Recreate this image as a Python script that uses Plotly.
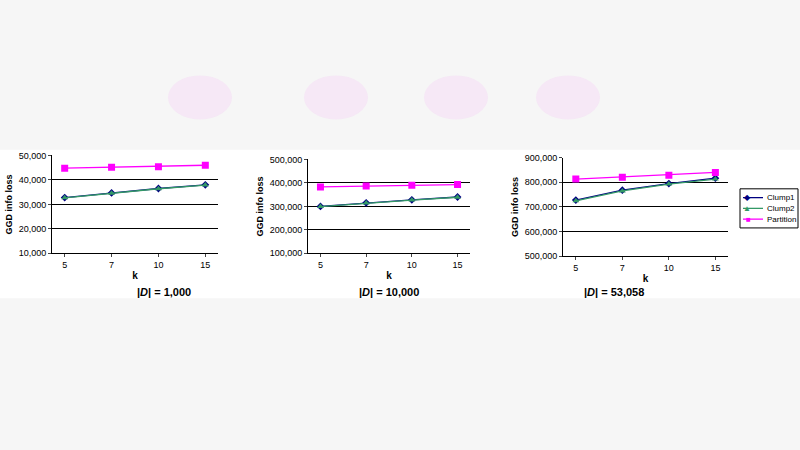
import plotly.graph_objects as go

# --- dados ---
k_labels = ["5", "7", "10", "15"]

clump1_1k = [32800, 34700, 36500, 38000]
clump2_1k = [32700, 34600, 36400, 37900]
partition_1k = [44800, 45200, 45400, 46000]

clump1_10k = [300000, 315000, 328000, 340000]
clump2_10k = [299000, 314000, 327000, 339000]
partition_10k = [383000, 387000, 390000, 393000]

clump1_53k = [728000, 768000, 795000, 817000]
clump2_53k = [725000, 765000, 793000, 813000]
partition_53k = [813000, 821000, 829000, 840000]

series_nomes = ["Clump1", "Clump2", "Partition"]

paineis = [
    (clump1_1k, clump2_1k, partition_1k, [10000, 50000], 10000, "|<i>D</i>| = 1,000"),
    (clump1_10k, clump2_10k, partition_10k, [100000, 500000], 100000, "|<i>D</i>| = 10,000"),
    (clump1_53k, clump2_53k, partition_53k, [500000, 900000], 100000, "|<i>D</i>| = 53,058"),
]
dom_x = [[0.065, 0.2725], [0.385, 0.5875], [0.704, 0.91]]
dom_y = [[0.4356, 0.658], [0.4356, 0.649], [0.429, 0.653]]

cores = ["#000080", "#339966", "#ff00ff"]
simbolos = ["diamond", "triangle-up", "square"]
tamanhos = [6, 6, 7]

fig = go.Figure()
fonte = "Liberation Sans, Arial, sans-serif"

for i, (c1, c2, part, yr, dt, titulo) in enumerate(paineis):
    n = "" if i == 0 else str(i + 1)
    xa, ya = "x" + n, "y" + n
    for j, vals in enumerate([c1, c2, part]):
        fig.add_trace(go.Scatter(x=k_labels, y=vals, name=series_nomes[j], xaxis=xa, yaxis=ya,
                                 mode="lines+markers", line=dict(color=cores[j], width=1.3),
                                 marker=dict(symbol=simbolos[j], size=tamanhos[j], color=cores[j]),
                                 showlegend=False))
    fig.layout["xaxis" + n] = dict(domain=dom_x[i], anchor=ya, type="category",
                                   showline=True, linecolor="#000", mirror=False,
                                   ticks="outside", ticklen=3, tickfont=dict(size=9, family=fonte),
                                   title=dict(text="<b>k</b>", font=dict(size=10, family=fonte), standoff=2))
    fig.layout["yaxis" + n] = dict(domain=dom_y[i], anchor=xa, range=yr, dtick=dt,
                                   tickformat=",", showline=True, linecolor="#000",
                                   showgrid=True, gridcolor="#000", gridwidth=1,
                                   ticks="outside", ticklen=3, tickfont=dict(size=9, family=fonte),
                                   title=dict(text="<b>GGD info loss</b>", font=dict(size=9, family=fonte), standoff=4))
    # moldura cinzenta da área do gráfico
    fig.add_shape(type="rect", xref=xa + " domain", yref=ya + " domain", x0=0, x1=1, y0=0, y1=1,
                  line=dict(color="#999", width=1), layer="below")
    fig.add_annotation(text="<b>" + titulo + "</b>", xref="paper", yref="paper",
                       x=sum(dom_x[i]) / 2, y=1 - 294 / 450, showarrow=False,
                       font=dict(size=11, family=fonte, color="#000"))

# legenda desenhada à mão (a legenda do plotly fica larga demais)
fig.add_shape(type="rect", xref="paper", yref="paper", x0=740 / 800, x1=798 / 800,
              y0=1 - 228 / 450, y1=1 - 188 / 450, line=dict(color="#000", width=1), fillcolor="white")
sym_txt = ["◆", "▲", "■"]
for j, nome in enumerate(series_nomes):
    yy = 1 - (197 + 11 * j) / 450
    fig.add_shape(type="line", xref="paper", yref="paper", x0=743 / 800, x1=763 / 800, y0=yy, y1=yy,
                  line=dict(color=cores[j], width=1.3))
    fig.add_annotation(text=sym_txt[j], xref="paper", yref="paper", x=753 / 800, y=yy,
                       showarrow=False, font=dict(size=8, color=cores[j]))
    fig.add_annotation(text=nome, xref="paper", yref="paper", x=765 / 800, y=yy, xanchor="left",
                       showarrow=False, font=dict(size=8, family=fonte, color="#000"))

# faixa branca no meio, fundo desfocado em volta
fig.add_shape(type="rect", xref="paper", yref="paper", x0=0, x1=1, y0=1 - 300 / 450, y1=1 - 148 / 450,
              fillcolor="white", line=dict(width=0), layer="below")
for cx in [0.25, 0.42, 0.57, 0.71]:
    fig.add_shape(type="circle", xref="paper", yref="paper", x0=cx - 0.04, x1=cx + 0.04,
                  y0=0.74, y1=0.84, fillcolor="rgba(245,200,245,0.3)", line=dict(width=0), layer="below")

fig.update_layout(
    width=800, height=450, margin=dict(l=0, r=0, t=0, b=0),
    paper_bgcolor="#f6f6f6", plot_bgcolor="white",
    font=dict(family=fonte, color="#000"),
)

# tirar a margem do body para a figura ocupar a janela toda
fig.write_html("out.html", config={"displayModeBar": False},
               post_script="document.body.style.margin='0';document.body.style.overflow='hidden';")
